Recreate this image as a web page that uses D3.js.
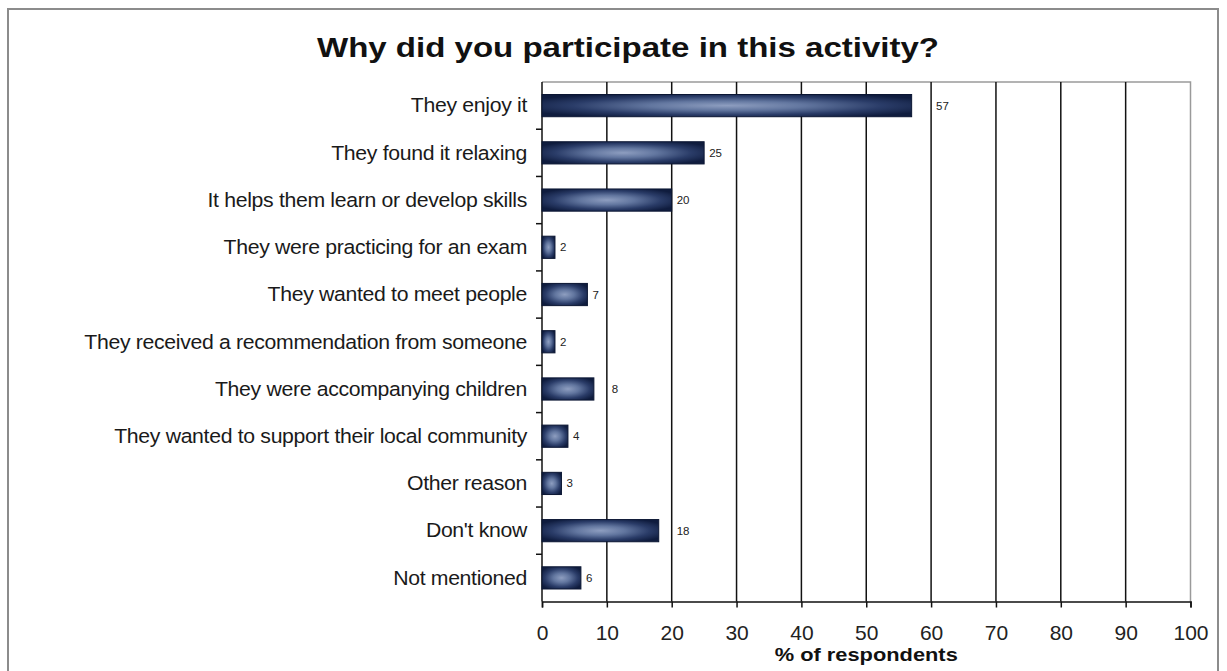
<!DOCTYPE html>
<html>
<head>
<meta charset="utf-8">
<script src="https://cdn.jsdelivr.net/npm/d3@7"></script>
<style>
  html, body { margin: 0; padding: 0; background: #fff; }
  svg { display: block; }
  text { font-family: Arial, "Liberation Sans", sans-serif; }
</style>
</head>
<body>
<svg id="chart" width="1227" height="671"></svg>
<script>
// Survey answers: reasons for taking part in the activity
const categories = [
  "They enjoy it",
  "They found it relaxing",
  "It helps them learn or develop skills",
  "They were practicing for an exam",
  "They wanted to meet people",
  "They received a recommendation from someone",
  "They were accompanying children",
  "They wanted to support their local community",
  "Other reason",
  "Don't know",
  "Not mentioned"
];
const percentages = [57, 25, 20, 2, 7, 2, 8, 4, 3, 18, 6];
const xTicks = [0, 10, 20, 30, 40, 50, 60, 70, 80, 90, 100];

const titleText = "Why did you participate in this activity?";
const xAxisTitle = "% of respondents";

const plot = { left: 542, right: 1190.5, top: 82, bottom: 601.5 };

const svg = d3.select("#chart");

// Outer frame
svg.append("rect")
  .attr("x", 8).attr("y", 9)
  .attr("width", 1210).attr("height", 675)
  .attr("fill", "#fff")
  .attr("stroke", "#8c8c8c").attr("stroke-width", 2);

// Bar fill: dark navy edges fading to a pale centre
const defs = svg.append("defs");
const grad = defs.append("radialGradient")
  .attr("id", "barGlow")
  .attr("cx", "0.5").attr("cy", "0.5").attr("r", "0.6");
grad.append("stop").attr("offset", "0%").attr("stop-color", "#8e9ec0");
grad.append("stop").attr("offset", "35%").attr("stop-color", "#62769f");
grad.append("stop").attr("offset", "70%").attr("stop-color", "#2a3c68");
grad.append("stop").attr("offset", "100%").attr("stop-color", "#0f1c3e");

const x = d3.scaleLinear().domain([0, 100]).range([plot.left, plot.right]);
const y = d3.scaleBand().domain(categories).range([plot.top, plot.bottom]).paddingInner(0.53).paddingOuter(0.265);
const yBands = d3.scaleBand().domain(categories).range([plot.top, plot.bottom]);

// Plot area outline (top and right in grey)
svg.append("path")
  .attr("d", `M${plot.left},${plot.top}H${plot.right}V${plot.bottom}`)
  .attr("fill", "none").attr("stroke", "#9a9a9a").attr("stroke-width", 1.5);

// Vertical gridlines
svg.append("g")
  .selectAll("line")
  .data(xTicks.filter(t => t > 0 && t < 100))
  .join("line")
  .attr("x1", d => x(d)).attr("x2", d => x(d))
  .attr("y1", plot.top).attr("y2", plot.bottom)
  .attr("stroke", "#111").attr("stroke-width", 1.5);

// X axis
const xAxis = d3.axisBottom(x).tickValues(xTicks).tickSize(6).tickPadding(18);
const gx = svg.append("g")
  .attr("transform", `translate(0,${plot.bottom})`)
  .call(xAxis);
gx.select(".domain").attr("stroke", "#111").attr("stroke-width", 1.5);
gx.selectAll(".tick line").attr("stroke", "#111").attr("stroke-width", 1.5);
gx.selectAll(".tick text")
  .attr("font-size", 21).attr("fill", "#222")
  .style("font-family", "Arial, 'Liberation Sans', sans-serif");

// Y axis: ticks at band boundaries, labels centred on bands
svg.append("line")
  .attr("x1", plot.left).attr("x2", plot.left)
  .attr("y1", plot.top).attr("y2", plot.bottom)
  .attr("stroke", "#111").attr("stroke-width", 1.5);
svg.append("g")
  .selectAll("line")
  .data(categories.slice(1))
  .join("line")
  .attr("x1", plot.left - 6).attr("x2", plot.left)
  .attr("y1", d => yBands(d)).attr("y2", d => yBands(d))
  .attr("stroke", "#111").attr("stroke-width", 1.5);

// Category labels, set slightly wide
svg.append("g")
  .selectAll("text")
  .data(categories)
  .join("text")
  .attr("transform", d => `translate(${plot.left - 15},${yBands(d) + yBands.bandwidth() / 2}) scale(1.09,1)`)
  .attr("dy", "0.35em")
  .attr("text-anchor", "end")
  .attr("font-size", 19.5)
  .attr("letter-spacing", -0.3)
  .attr("fill", "#1a1a1a")
  .text(d => d);

// Bars
const rows = categories.map((c, i) => ({ cat: c, val: percentages[i] }));
svg.append("g")
  .selectAll("rect")
  .data(rows)
  .join("rect")
  .attr("x", x(0))
  .attr("y", d => y(d.cat))
  .attr("width", d => x(d.val) - x(0))
  .attr("height", y.bandwidth())
  .attr("fill", "url(#barGlow)")
  .attr("stroke", "#0b1633").attr("stroke-width", 1);

// Value labels: placed just past the bar end, stepping over a gridline if one is in the way
const gridXs = xTicks.filter(t => t > 0 && t < 100).map(t => x(t));
function labelX(v) {
  const end = x(v);
  let start = end + 5;
  const boxW = String(v).length * 7 + 6;
  for (const g of gridXs) {
    if (g > start - 3 && g < start + boxW) start = g + 5;
  }
  return start;
}
svg.append("g")
  .selectAll("text")
  .data(rows)
  .join("text")
  .attr("x", d => labelX(d.val))
  .attr("y", d => y(d.cat) + y.bandwidth() / 2)
  .attr("dy", "0.35em")
  .attr("font-size", 11.5)
  .attr("fill", "#222")
  .text(d => d.val);

// Title
svg.append("text")
  .attr("transform", "translate(628,47) scale(1.18,1)")
  .attr("dy", "0.35em")
  .attr("text-anchor", "middle")
  .attr("font-size", 28)
  .attr("font-weight", "bold")
  .attr("fill", "#111")
  .text(titleText);

// X axis title
svg.append("text")
  .attr("transform", `translate(${(plot.left + plot.right) / 2},655) scale(1.18,1)`)
  .attr("dy", "0.35em")
  .attr("text-anchor", "middle")
  .attr("font-size", 18.5)
  .attr("font-weight", "bold")
  .attr("fill", "#111")
  .text(xAxisTitle);
</script>
</body>
</html>
